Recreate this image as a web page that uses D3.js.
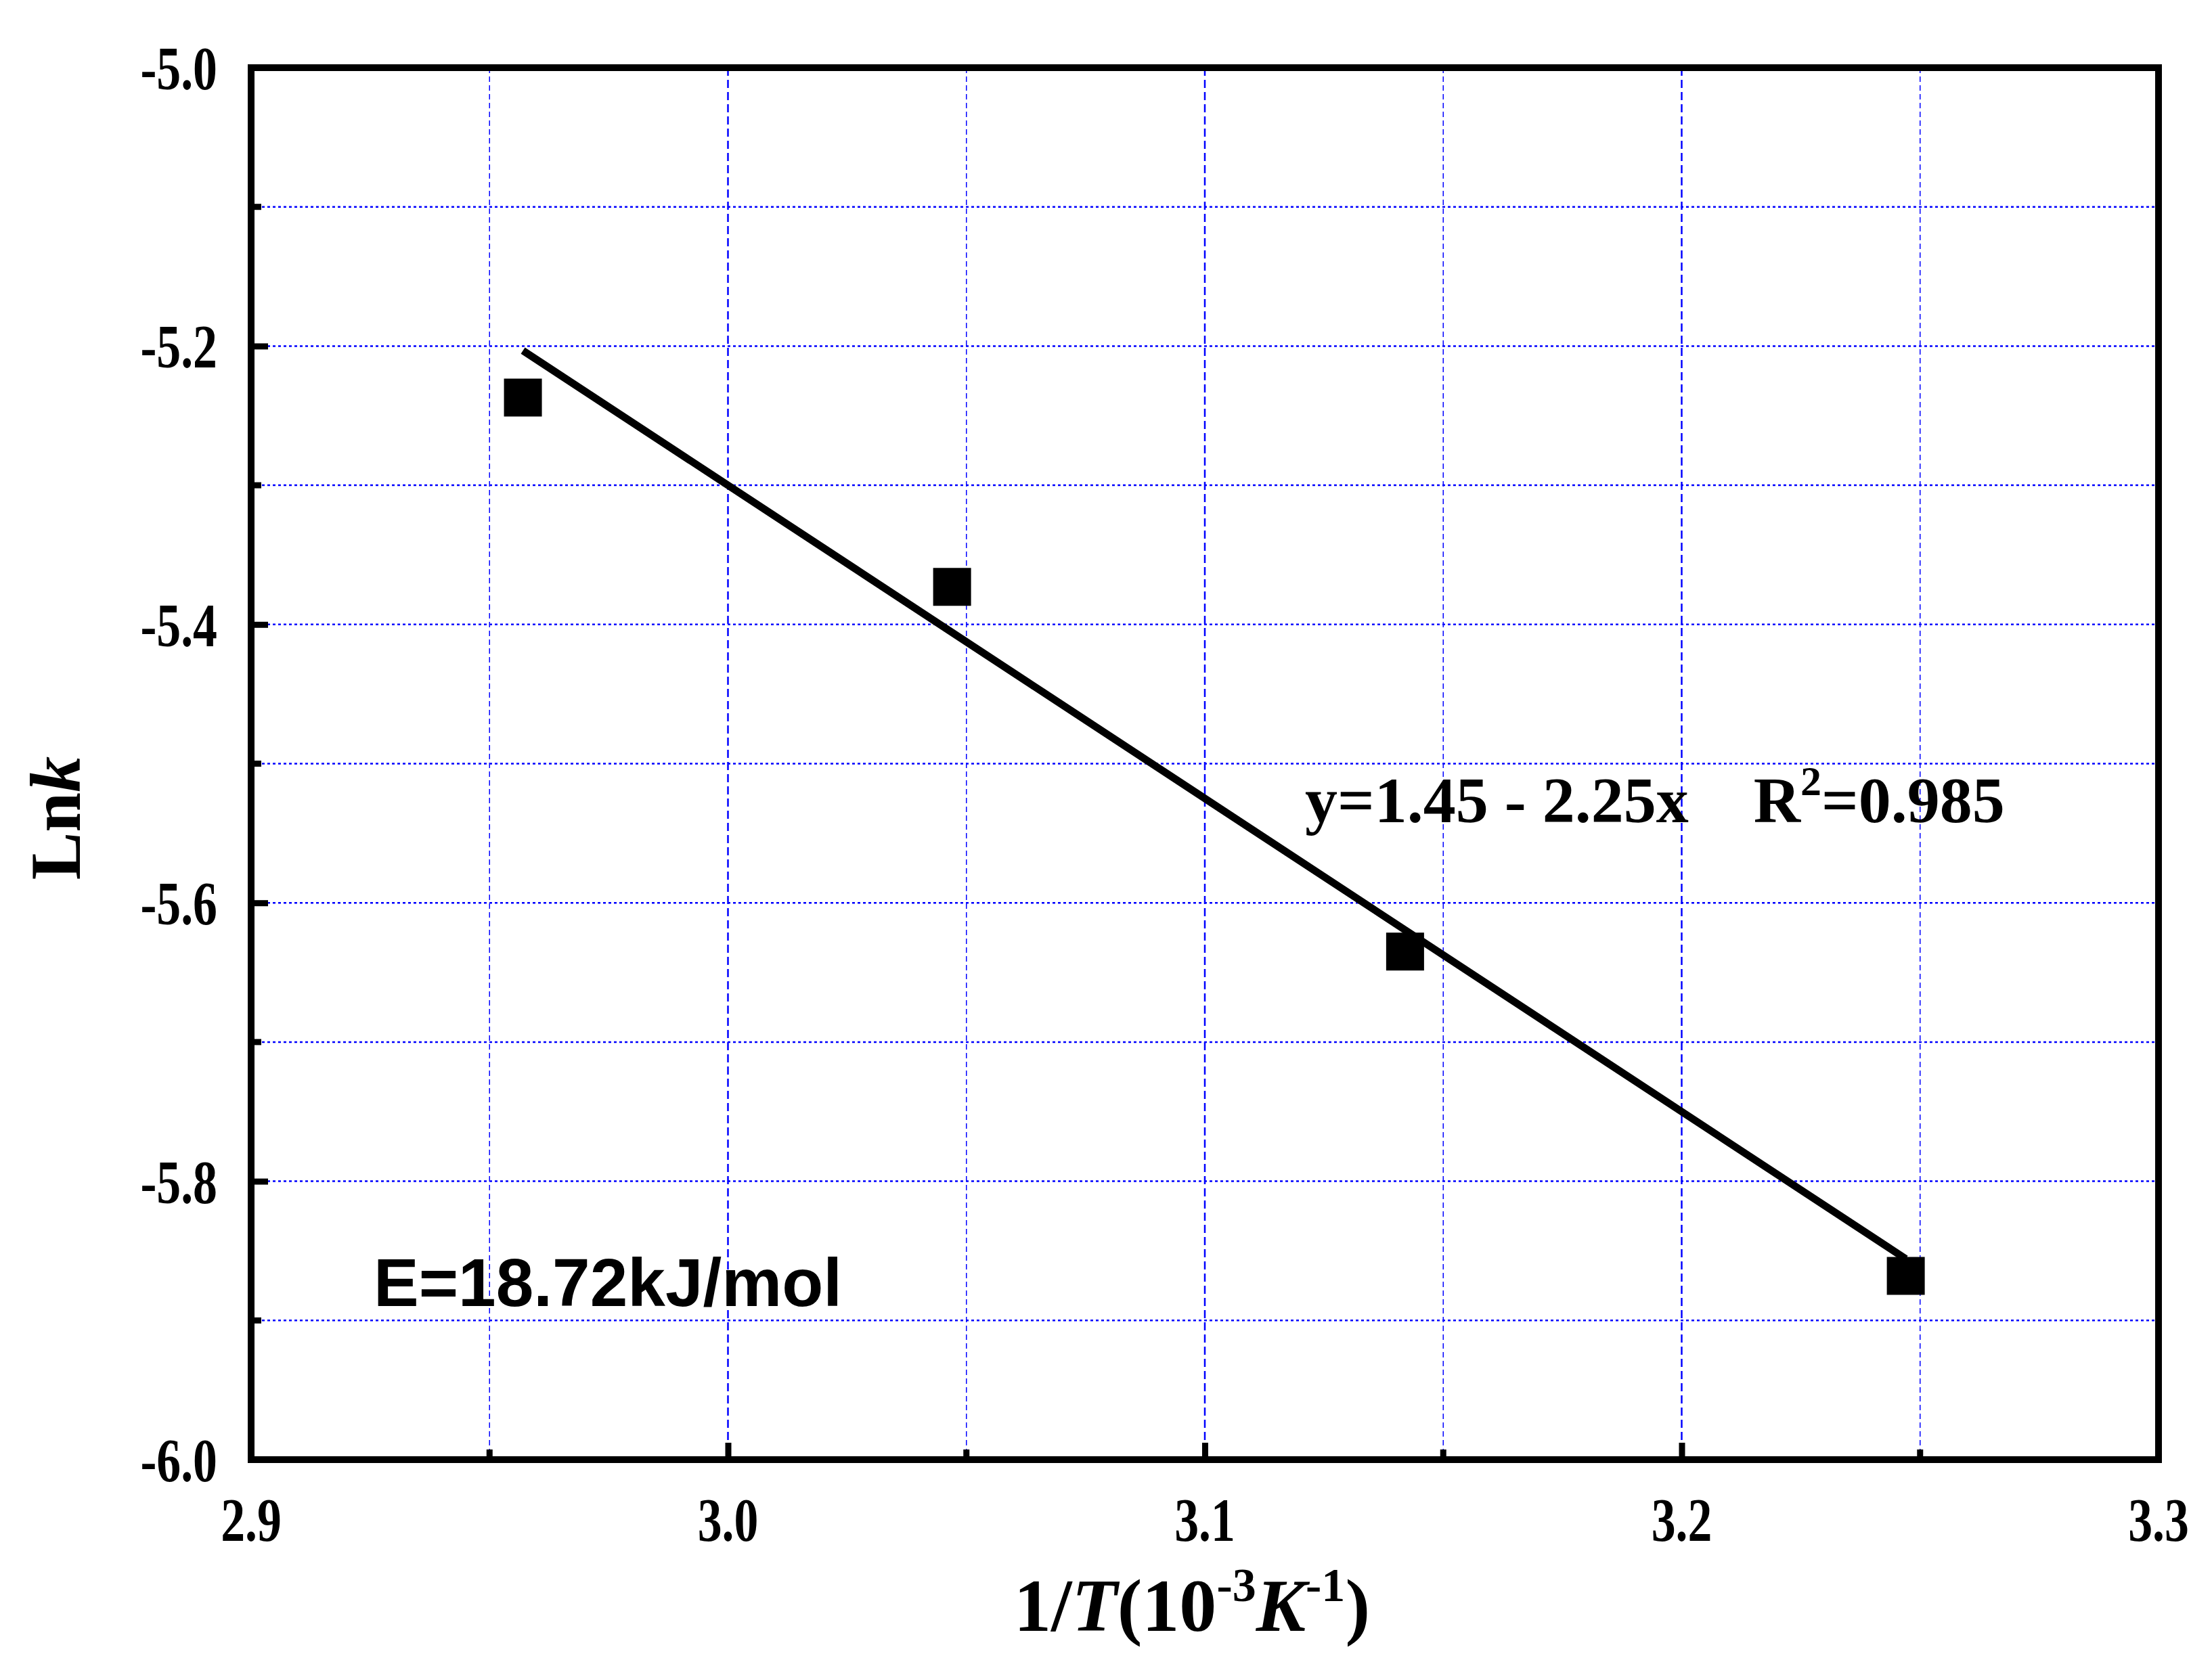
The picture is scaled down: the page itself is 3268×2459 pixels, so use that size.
<!DOCTYPE html>
<html>
<head>
<meta charset="utf-8">
<script src="https://cdn.jsdelivr.net/npm/d3@7"></script>
<style>
  body { margin: 0; background: #fff; }
</style>
</head>
<body>
<svg id="chart" width="3268" height="2459"></svg>
<script>
// data
var invT = [2.957, 3.047, 3.142, 3.247];
var lnK = [-5.237, -5.373, -5.635, -5.868];
var fitA = 1.45, fitB = -2.25;
var xTicks = [2.9, 3.0, 3.1, 3.2, 3.3];
var yTicks = [-6.0, -5.8, -5.6, -5.4, -5.2, -5.0];

var serif = "Liberation Serif, Times New Roman, serif";
var m = { left: 371, right: 3189, top: 100, bottom: 2157 };
var svg = d3.select("#chart");
var x = d3.scaleLinear().domain([2.9, 3.3]).range([m.left, m.right]);
var y = d3.scaleLinear().domain([-6.0, -5.0]).range([m.bottom, m.top]);

// grid
var xMinor = d3.range(2.95, 3.3, 0.1);
var yMinor = d3.range(-5.9, -5.0, 0.2);
var g = svg.append("g");
g.selectAll(".vg").data(xTicks.slice(1, -1)).enter().append("line")
  .attr("x1", x).attr("x2", x).attr("y1", m.top).attr("y2", m.bottom)
  .attr("stroke", "#0000ff").attr("stroke-width", 2.5).attr("stroke-dasharray", "12,6");
g.selectAll(".vm").data(xMinor).enter().append("line")
  .attr("x1", x).attr("x2", x).attr("y1", m.top).attr("y2", m.bottom)
  .attr("stroke", "#0000ff").attr("stroke-width", 1.5).attr("stroke-dasharray", "8,5");
g.selectAll(".hg").data(yTicks.slice(1, -1).concat(yMinor)).enter().append("line")
  .attr("x1", m.left).attr("x2", m.right).attr("y1", y).attr("y2", y)
  .attr("stroke", "#0000ff").attr("stroke-width", 2.5).attr("stroke-dasharray", "4,4");

// frame
svg.append("rect").attr("x", m.left).attr("y", m.top)
  .attr("width", m.right - m.left).attr("height", m.bottom - m.top)
  .attr("fill", "none").attr("stroke", "#000").attr("stroke-width", 10);

// axes (labels drawn separately, condensed like the original)
var fmt = function(d) { return d3.format(".1f")(d).replace("\u2212", "-"); };
var xAx = svg.append("g").attr("transform", "translate(0," + m.bottom + ")")
  .call(d3.axisBottom(x).tickValues(xTicks).tickFormat("").tickSizeInner(-25).tickSizeOuter(0));
xAx.selectAll("line").attr("stroke-width", 9);
xAx.append("g").selectAll("line").data(xMinor).enter().append("line")
  .attr("x1", x).attr("x2", x).attr("y1", 0).attr("y2", -15).attr("stroke", "#000").attr("stroke-width", 9);
var yAx = svg.append("g").attr("transform", "translate(" + m.left + ",0)")
  .call(d3.axisLeft(y).tickValues(yTicks).tickFormat("").tickSizeInner(-25).tickSizeOuter(0));
yAx.selectAll("line").attr("stroke-width", 9);
yAx.append("g").selectAll("line").data(yMinor).enter().append("line")
  .attr("x1", 0).attr("x2", 15).attr("y1", y).attr("y2", y).attr("stroke", "#000").attr("stroke-width", 9);
svg.selectAll(".domain").remove();

svg.selectAll(".xl").data(xTicks).enter().append("text")
  .attr("transform", function(d) { return "translate(" + x(d) + "," + (m.bottom + 120) + ") scale(0.78,1)"; })
  .attr("text-anchor", "middle").attr("font-family", serif).attr("font-weight", "bold")
  .attr("font-size", 92).text(fmt);
svg.selectAll(".yl").data(yTicks).enter().append("text")
  .attr("transform", function(d) { return "translate(" + (m.left - 50) + "," + (y(d) + 32) + ") scale(0.78,1)"; })
  .attr("text-anchor", "end").attr("font-family", serif).attr("font-weight", "bold")
  .attr("font-size", 92).text(fmt);

// fit line
var x0 = d3.min(invT), x1 = d3.max(invT);
svg.append("line").attr("x1", x(x0)).attr("y1", y(fitA + fitB * x0))
  .attr("x2", x(x1)).attr("y2", y(fitA + fitB * x1))
  .attr("stroke", "#000").attr("stroke-width", 11);

// points
svg.selectAll(".pt").data(invT).enter().append("rect")
  .attr("x", function(d) { return x(d) - 28; })
  .attr("y", function(d, i) { return y(lnK[i]) - 28; })
  .attr("width", 56).attr("height", 56).attr("fill", "#000");

// labels
svg.append("text").attr("x", 552).attr("y", 1930)
  .attr("font-family", "Liberation Sans, Arial, sans-serif").attr("font-weight", "bold").attr("font-size", 100)
  .text("E=18.72kJ/mol");
var eq = svg.append("text").attr("x", 1928).attr("y", 1215).attr("font-size", 96)
  .attr("font-family", serif).attr("font-weight", "bold").attr("xml:space", "preserve");
eq.append("tspan").text("y=1.45 - 2.25x    R");
eq.append("tspan").attr("dy", -40).attr("font-size", 62).text("2");
eq.append("tspan").attr("dy", 40).text("=0.985");

var ylab = svg.append("text").attr("transform", "translate(118,1209) rotate(-90)")
  .attr("text-anchor", "middle").attr("font-size", 106)
  .attr("font-family", serif).attr("font-weight", "bold");
ylab.append("tspan").text("Ln");
ylab.append("tspan").attr("font-style", "italic").text("k");

var xlab = svg.append("text").attr("x", 1761).attr("y", 2410)
  .attr("text-anchor", "middle").attr("font-size", 110)
  .attr("font-family", serif).attr("font-weight", "bold");
xlab.append("tspan").text("1/");
xlab.append("tspan").attr("font-style", "italic").text("T");
xlab.append("tspan").text("(10");
xlab.append("tspan").attr("dy", -44).attr("font-size", 70).text("-3");
xlab.append("tspan").attr("dy", 44).attr("font-style", "italic").text("K");
xlab.append("tspan").attr("dy", -44).attr("font-size", 70).text("-1");
xlab.append("tspan").attr("dy", 44).text(")");
</script>
</body>
</html>
